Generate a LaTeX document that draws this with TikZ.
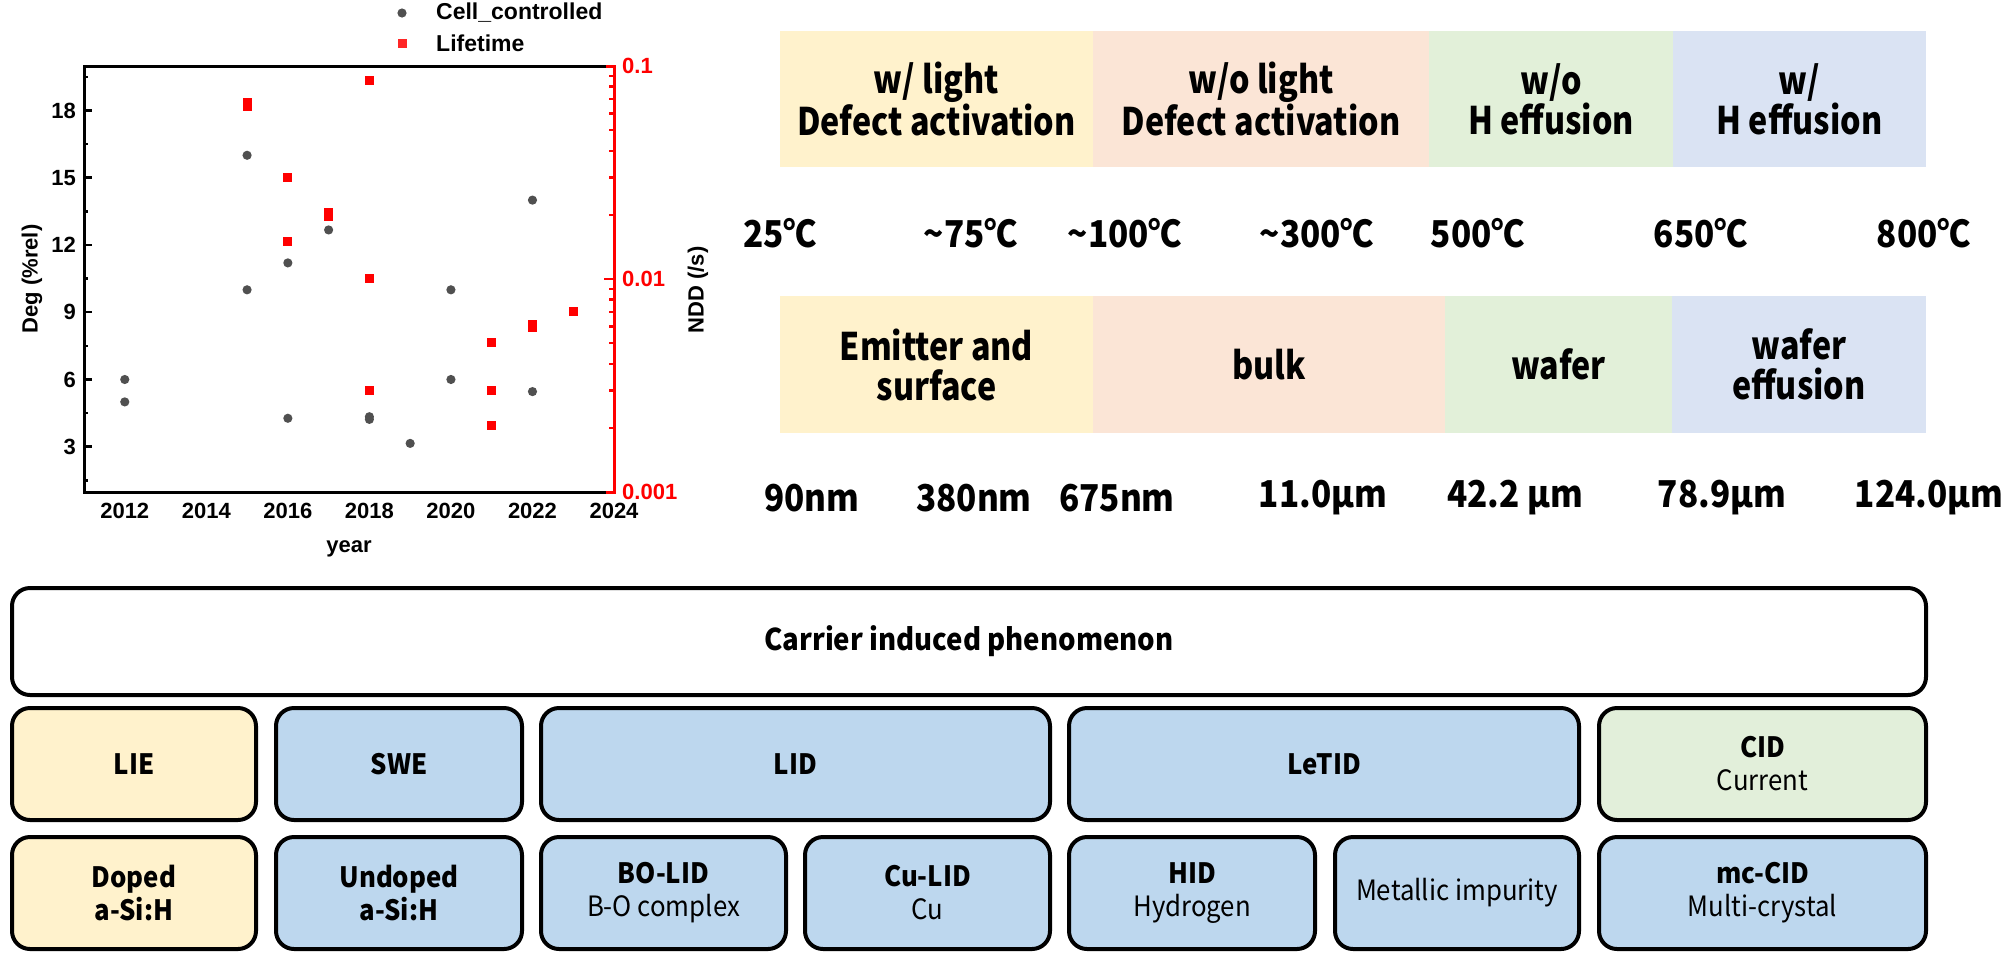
\documentclass[tikz,border=0pt]{standalone}
\usepackage{fontspec}
\setmainfont{Liberation Sans}
\newfontfamily\kfa{Noto Sans CJK KR}[FakeStretch=0.85]
\newfontfamily\kfb{Noto Sans CJK KR}[FakeStretch=0.9]
\newfontfamily\kfc{Noto Sans CJK KR}[FakeStretch=0.92]
\newfontfamily\af{Liberation Sans}
\definecolor{yel}{HTML}{FFF2CC}
\definecolor{pnk}{HTML}{FBE5D6}
\definecolor{grn}{HTML}{E2F0D9}
\definecolor{blu}{HTML}{DAE3F3}
\definecolor{boxblue}{HTML}{BDD7EE}
\definecolor{boxyel}{HTML}{FFF2CC}
\definecolor{boxgrn}{HTML}{E2EFDA}
\definecolor{dotgray}{HTML}{505050}
\newcommand\mydot[2]{\fill[dotgray] ({84+40.77*(#1-2011)},{514-22.42*#2}) circle (4.6);}
\newcommand\mysq[2]{\fill[red] ({84+40.77*(#1-2011)-4.5},{492-213*(log10(#2)+3)-4.5}) rectangle +(9,9);}
\tikzset{
  band/.style={inner sep=0pt, outer sep=0pt, align=center, text=black,
    font=\kfa\bfseries\fontsize{38}{40}\selectfont},
  lbl/.style={inner sep=0pt, font=\kfb\bfseries\fontsize{37}{40}\selectfont},
  cbox/.style={draw=black, line width=4pt, rounded corners=18pt, inner sep=0pt,
    align=center, font=\kfc\fontsize{28}{33}\selectfont},
  ax/.style={inner sep=0pt, font=\af\bfseries\fontsize{22}{24}\selectfont},
}
\begin{document}
\begin{tikzpicture}[x=1pt,y=-1pt]
\useasboundingbox (0,0) rectangle (2008,954);

% ---------- plot ----------
\draw[line width=3pt] (614,66) -- (84,66) -- (84,492) -- (614,492);
\draw[red, line width=3pt] (606,66) -- (614,66) -- (614,492) -- (606,492);
\foreach \v in {3,6,...,18} \draw[line width=2.5pt] (84,{514-22.42*\v}) -- (92,{514-22.42*\v});
\foreach \v in {1.5,4.5,...,19.5} \draw[line width=2.5pt] (84,{514-22.42*\v}) -- (88,{514-22.42*\v});
\foreach \v in {3,6,...,18} \node[ax, anchor=east] (yl\v) at (76,{514-22.42*\v}) {\v};
\foreach \d in {0,1} {
  \foreach \m in {2,...,9} \draw[red, line width=2.5pt] (614,{492-213*\d-213*log10(\m)}) -- (609,{492-213*\d-213*log10(\m)});
}
\draw[red, line width=2.5pt] (614,279) -- (604,279);
\node[ax, red, anchor=west] (r1) at (622,66) {0.1};
\node[ax, red, anchor=west] (r2) at (622,279) {0.01};
\node[ax, red, anchor=west] (r3) at (622,492) {0.001};
\foreach \yr in {2012,2014,...,2024} \node[ax] (xl\yr) at ({84+40.77*(\yr-2011)},511) {\yr};
\node[ax] (xt) at (349,549) {year};
\node[ax, rotate=90] (yt) at (32,279) {Deg (\%rel)};
\node[ax, rotate=90] (rt) at (698,290) {NDD (/s)};
% legend
\fill[dotgray] (402,13) circle (4.6);
\fill[red!85] (397.5,38.5) rectangle +(9,9);
\node[ax, anchor=west, font=\af\bfseries\fontsize{23}{24}\selectfont] (lg1) at (436,13) {Cell\_controlled};
\node[ax, anchor=west, font=\af\bfseries\fontsize{23}{24}\selectfont] (lg2) at (436,43) {Lifetime};
% data
\mydot{2012}{6} \mydot{2012}{5}
\mydot{2015}{16} \mydot{2015}{10}
\mydot{2016}{11.2} \mydot{2016}{4.27}
\mydot{2017}{12.67}
\mydot{2018}{4.34} \mydot{2018}{4.22}
\mydot{2019}{3.15}
\mydot{2020}{10} \mydot{2020}{6}
\mydot{2022}{14} \mydot{2022}{5.46}
\mysq{2015}{0.066} \mysq{2015}{0.063}
\mysq{2016}{0.030} \mysq{2016}{0.015}
\mysq{2017}{0.0205} \mysq{2017}{0.0195}
\mysq{2018}{0.085} \mysq{2018}{0.010} \mysq{2018}{0.003}
\mysq{2021}{0.005} \mysq{2021}{0.003} \mysq{2021}{0.002}
\mysq{2022}{0.0061} \mysq{2022}{0.0059}
\mysq{2023}{0.007}

% ---------- top bands ----------
\node[band, fill=yel, minimum width=313pt, minimum height=136pt] (t1) at (936.5,99) {w/ light\\Defect activation};
\node[band, fill=pnk, minimum width=336pt, minimum height=136pt] (t2) at (1261,99) {w/o light\\Defect activation};
\node[band, fill=grn, minimum width=244pt, minimum height=136pt] (t3) at (1551,99) {w/o\\H effusion};
\node[band, fill=blu, minimum width=253pt, minimum height=136pt] (t4) at (1799.5,99) {w/\\H effusion};

\node[lbl] (c1) at (780,233) {25℃};
\node[lbl] (c2) at (971,233) {\textasciitilde75℃};
\node[lbl] (c3) at (1125,233) {\textasciitilde100℃};
\node[lbl] (c4) at (1317,233) {\textasciitilde300℃};
\node[lbl] (c5) at (1478,233) {500℃};
\node[lbl] (c6) at (1701,233) {650℃};
\node[lbl] (c7) at (1924,233) {800℃};

\node[band, fill=yel, minimum width=313pt, minimum height=137pt] (u1) at (936.5,364.5) {Emitter and\\surface};
\node[band, fill=pnk, minimum width=352pt, minimum height=137pt] (u2) at (1269,364.5) {bulk};
\node[band, fill=grn, minimum width=227pt, minimum height=137pt] (u3) at (1558.5,364.5) {wafer};
\node[band, fill=blu, minimum width=254pt, minimum height=137pt] (u4) at (1799,364.5) {wafer\\effusion};

\node[lbl] (d1) at (812,498) {90nm};
\node[lbl] (d2) at (974,498) {380nm};
\node[lbl] (d3) at (1117,498) {675nm};
\node[lbl] (d4) at (1323,498) {11.0µm};
\node[lbl] (d5) at (1515,498) {42.2 µm};
\node[lbl] (d6) at (1722,498) {78.9µm};
\node[lbl] (d7) at (1929,498) {124.0µm};

% ---------- bottom boxes ----------
\node[cbox, fill=white, minimum width=1914pt, minimum height=107pt, font=\kfc\bfseries\fontsize{30}{33}\selectfont] (cip) at (969,641.5) {Carrier induced phenomenon};

\node[cbox, fill=boxyel, minimum width=244pt, minimum height=112pt] (lie) at (134,764) {\bfseries LIE};
\node[cbox, fill=boxblue, minimum width=246pt, minimum height=112pt] (swe) at (399,764) {\bfseries SWE};
\node[cbox, fill=boxblue, minimum width=509pt, minimum height=112pt] (lid) at (795.5,764) {\bfseries LID};
\node[cbox, fill=boxblue, minimum width=510pt, minimum height=112pt] (letid) at (1324,764) {\bfseries LeTID};
\node[cbox, fill=boxgrn, minimum width=327pt, minimum height=112pt] (cid) at (1762.5,764) {\textbf{CID}\\Current};

\node[cbox, fill=boxyel, minimum width=244pt, minimum height=112pt] (dop) at (134,893) {\bfseries Doped\\\bfseries a-Si:H};
\node[cbox, fill=boxblue, minimum width=246pt, minimum height=112pt] (udop) at (399,893) {\bfseries Undoped\\\bfseries a-Si:H};
\node[cbox, fill=boxblue, minimum width=245pt, minimum height=112pt] (bo) at (663.5,893) {\textbf{BO-LID}\\B-O complex};
\node[cbox, fill=boxblue, minimum width=245pt, minimum height=112pt] (cu) at (927.5,893) {\textbf{Cu-LID}\\Cu};
\node[cbox, fill=boxblue, minimum width=246pt, minimum height=112pt] (hid) at (1192,893) {\textbf{HID}\\Hydrogen};
\node[cbox, fill=boxblue, minimum width=244pt, minimum height=112pt] (met) at (1457,893) {Metallic impurity};
\node[cbox, fill=boxblue, minimum width=327pt, minimum height=112pt] (mc) at (1762.5,893) {\textbf{mc-CID}\\Multi-crystal};
\end{tikzpicture}
\end{document}
